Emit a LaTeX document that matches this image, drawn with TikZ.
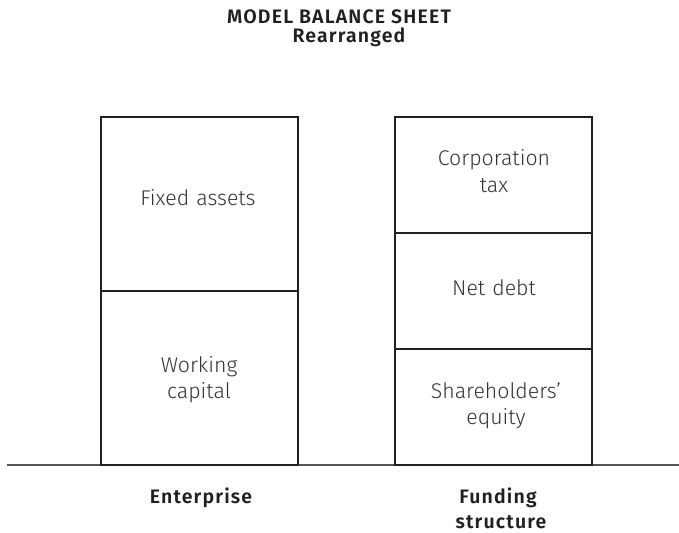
\documentclass[tikz,border=0pt]{standalone}
\usepackage{fontspec}
\setmainfont{Fira Sans}[UprightFont=* Light, BoldFont=* SemiBold]
\newfontfamily\headfont{Fira Sans SemiBold}[LetterSpace=6]
\begin{document}
\begin{tikzpicture}[x=1bp,y=-1bp,
  sect/.style={draw=boxline, line width=2.2bp, minimum width=197bp, inner sep=0pt},
  lab/.style={text=labgray, font=\fontsize{21.3bp}{26.5bp}\selectfont, align=center, text width=190bp, inner sep=0pt, anchor=base},
  head/.style={text=headgray, font=\headfont\fontsize{19.5bp}{24bp}\selectfont, align=center, inner sep=0pt, anchor=base}]
\definecolor{boxline}{HTML}{231F20}
\definecolor{labgray}{HTML}{333333}
\definecolor{headgray}{HTML}{231F20}
\definecolor{basegray}{HTML}{555555}
\useasboundingbox (0,0) rectangle (679,533);
% title
\node[head] (t1) at (339,24) {MODEL BALANCE SHEET};
\node[head] (t2) at (349,43) {Rearranged};
% ground line
\coordinate (g1) at (7,465);
\coordinate (g2) at (679,465);
\draw[draw=basegray, line width=1.5bp] (g1) -- (g2);
% left column
\node[sect, minimum height=174bp] (fa) at (199.5,204) {};
\node[sect, minimum height=174bp] (wc) at (199.5,378) {};
% right column
\node[sect, minimum height=116bp] (ct) at (493.5,175) {};
\node[sect, minimum height=116bp] (nd) at (493.5,291) {};
\node[sect, minimum height=116bp] (se) at (493.5,407) {};
% labels
\node[lab] (lfa) at (198,206) {Fixed assets};
\node[lab] (lwc) at (199,372) {Working\\capital};
\node[lab] (lct) at (494,166) {Corporation\\tax};
\node[lab] (lnd) at (494,295) {Net debt};
\node[lab] (lse) at (496,398) {Shareholders'\\equity};
% bottom captions
\node[head] (ent) at (201,503) {Enterprise};
\node[head] (fs1) at (498,503) {Funding};
\node[head] (fs2) at (501,528) {structure};
\end{tikzpicture}
\end{document}
